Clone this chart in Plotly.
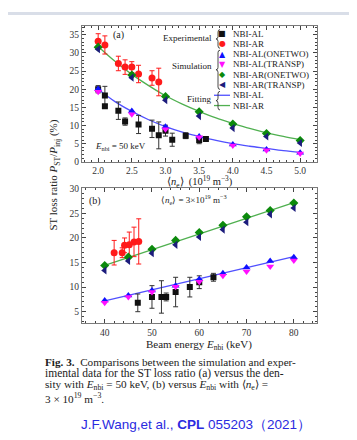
import plotly.graph_objects as go

W, H = 357, 440

# ---------------- Panel (a): versus density ----------------
ne_sim = [2.0, 2.5, 3.0, 3.5, 4.0, 4.5, 5.0]
al_onetwo_a = [20.1, 14.0, 9.7, 7.0, 4.8, 3.4, 2.5]
al_transp_a = [19.3, 13.1, 9.0, 6.8, 4.5, 3.2, 2.3]
ar_onetwo_a = [31.6, 23.9, 18.0, 13.8, 10.4, 7.8, 5.9]
ar_transp_a = [31.0, 23.2, 17.0, 12.6, 9.3, 7.0, 5.2]

ne_exp_al = [2.0, 2.1, 2.1, 2.3, 2.4, 2.6, 2.8, 2.9, 3.0, 3.1, 3.3, 3.5, 3.6]
exp_al_a = [20.0, 18.3, 15.3, 14.1, 11.1, 10.3, 9.1, 7.3, 8.6, 6.1, 7.2, 6.0, 6.3]
exp_al_a_err = [1.0, 2.5, 0.3, 2.4, 1.0, 2.5, 2.4, 3.7, 1.5, 1.8, 0.8, 1.0, 0.3]

ne_exp_ar = [2.0, 2.1, 2.3, 2.4, 2.5, 2.6, 2.8, 2.9]
exp_ar_a = [33.2, 32.2, 27.1, 26.1, 26.1, 24.2, 23.1, 22.0]
exp_ar_a_err = [2.1, 2.5, 2.0, 2.0, 1.5, 2.4, 2.0, 3.8]

ne_fit = [2.0, 2.25, 2.5, 2.75, 3.0, 3.25, 3.5, 3.75, 4.0, 4.25, 4.5, 4.75, 5.0]
fit_al_a = [20.0, 16.6, 13.9, 11.6, 9.7, 8.2, 7.0, 5.9, 5.0, 4.3, 3.7, 3.1, 2.6]
fit_ar_a = [31.8, 27.7, 24.1, 21.0, 18.2, 15.9, 13.9, 12.1, 10.6, 9.2, 8.0, 7.0, 6.1]

# ---------------- Panel (b): versus beam energy ----------------
E_sim = [40, 45, 50, 55, 60, 65, 70, 75, 80]
al_onetwo_b = [7.3, 8.3, 9.3, 10.3, 11.6, 12.8, 14.0, 15.3, 16.1]
al_transp_b = [6.8, 8.0, 9.0, 10.1, 11.1, 12.3, 13.2, 14.2, 15.4]
ar_onetwo_b = [14.4, 16.1, 17.7, 19.5, 21.1, 22.6, 24.3, 25.6, 27.1]
ar_transp_b = [13.4, 15.3, 16.9, 18.6, 20.2, 21.7, 23.2, 24.8, 26.1]

E_exp_al = [47, 50, 52, 53, 55, 58, 60, 63]
exp_al_b = [6.8, 8.0, 8.0, 8.0, 9.0, 10.0, 11.0, 12.0]
exp_al_b_err = [1.8, 2.3, 3.3, 0.8, 3.0, 2.0, 1.3, 0.8]

E_exp_ar = [42, 43.7, 44.2, 45.2, 46.2, 47.2]
exp_ar_b = [17.0, 17.0, 18.5, 18.6, 19.2, 19.3]
exp_ar_b_err = [2.5, 1.0, 1.5, 2.6, 3.0, 4.6]

E_fit = [40, 80]
fit_al_b = [7.2, 16.2]
fit_ar_b = [14.4, 27.2]

legend_labels = ["NBI-AL", "NBI-AR", "NBI-AL(ONETWO)", "NBI-AL(TRANSP)",
                 "NBI-AR(ONETWO)", "NBI-AR(TRANSP)", "NBI-AL", "NBI-AR"]

# colours
C_BLK = "#111111"
C_RED = "#ff1a1a"
C_BLU = "#1010ff"
C_MAG = "#ff10ff"
C_GRN = "#0c8a0c"
C_NAV = "#1c1c7c"
C_FBL = "#5050ff"
C_FGR = "#50b050"

SERIF = "Liberation Serif"


def px(x, y):
    return x / W, 1 - y / H


fig = go.Figure()


def add_panel(xa, ya, xs, ys_list, xexp_al, yexp_al, eal, xexp_ar, yexp_ar, ear, xfit, fal, far, spline):
    shape = "spline" if spline else "linear"
    fig.add_trace(go.Scatter(x=xfit, y=fal, mode="lines", line=dict(color=C_FBL, width=1.3, shape=shape),
                             xaxis=xa, yaxis=ya, showlegend=False))
    fig.add_trace(go.Scatter(x=xfit, y=far, mode="lines", line=dict(color=C_FGR, width=1.3, shape=shape),
                             xaxis=xa, yaxis=ya, showlegend=False))
    fig.add_trace(go.Scatter(x=xexp_ar, y=yexp_ar, mode="markers",
                             marker=dict(symbol="circle", size=7, color=C_RED),
                             error_y=dict(type="data", array=ear, color=C_RED, thickness=1, width=2.5),
                             xaxis=xa, yaxis=ya, showlegend=False))
    fig.add_trace(go.Scatter(x=xexp_al, y=yexp_al, mode="markers",
                             marker=dict(symbol="square", size=6, color=C_BLK),
                             error_y=dict(type="data", array=eal, color="#333333", thickness=1, width=2.5),
                             xaxis=xa, yaxis=ya, showlegend=False))
    sims = [("triangle-up", C_BLU), ("triangle-down", C_MAG), ("diamond", C_GRN), ("triangle-left", C_NAV)]
    for (sym, col), ys in zip(sims, ys_list):
        fig.add_trace(go.Scatter(x=xs, y=ys, mode="markers",
                                 marker=dict(symbol=sym, size=7, color=col),
                                 xaxis=xa, yaxis=ya, showlegend=False))


add_panel("x", "y", ne_sim, [al_onetwo_a, al_transp_a, ar_onetwo_a, ar_transp_a],
          ne_exp_al, exp_al_a, exp_al_a_err, ne_exp_ar, exp_ar_a, exp_ar_a_err,
          ne_fit, fit_al_a, fit_ar_a, True)
add_panel("x2", "y2", E_sim, [al_onetwo_b, al_transp_b, ar_onetwo_b, ar_transp_b],
          E_exp_al, exp_al_b, exp_al_b_err, E_exp_ar, exp_ar_b, exp_ar_b_err,
          E_fit, fit_al_b, fit_ar_b, False)

ax_common = dict(showline=True, linecolor="#7a7a7a", linewidth=1.2, mirror="ticks",
                 ticks="inside", ticklen=4, tickcolor="#444", tickwidth=1,
                 showgrid=False, zeroline=False,
                 tickfont=dict(family=SERIF, size=9.5, color="#333"))

xd = [74 / W, 309 / W]
fig.update_layout(
    width=W, height=H, margin=dict(l=0, r=0, t=0, b=0),
    paper_bgcolor="white", plot_bgcolor="white", showlegend=False,
    xaxis=dict(domain=xd, range=[1.76, 5.25], dtick=0.5, tick0=2.0, tickformat=".1f", anchor="y",
               minor=dict(ticks="inside", ticklen=2, dtick=0.1, tickcolor="#444"), **ax_common),
    yaxis=dict(domain=[1 - 153 / H, 1 - 14 / H], range=[0, 37.5], dtick=5, anchor="x",
               minor=dict(ticks="inside", ticklen=2, dtick=1, tickcolor="#444"), **ax_common),
    xaxis2=dict(domain=xd, range=[35.2, 84.9], dtick=10, anchor="y2",
                minor=dict(ticks="inside", ticklen=2, dtick=2, tickcolor="#444"), **ax_common),
    yaxis2=dict(domain=[1 - 318 / H, 1 - 180 / H], range=[2.6, 30.1], dtick=5, anchor="x2",
                minor=dict(ticks="inside", ticklen=2, dtick=1, tickcolor="#444"), **ax_common),
)

ann = []


def text(x, y, t, size=10, color="#222", xanchor="center", family=SERIF, angle=0):
    ax, ay = px(x, y)
    ann.append(dict(x=ax, y=ay, xref="paper", yref="paper", text=t, showarrow=False,
                    xanchor=xanchor, yanchor="middle", textangle=angle,
                    font=dict(family=family, size=size, color=color)))


# panel texts
text(110, 23, "(a)", 10)
text(85, 137, "<i>E</i><sub>nbi</sub> = 50 keV", 9, xanchor="left")
text(87, 193, "(b)", 10)
text(186, 191, "⟨<i>n</i><sub>e</sub>⟩ = 3×10<sup>19</sup> m<sup>−3</sup>", 9)

# axis titles
text(192, 174, "⟨<i>n</i><sub>e</sub>⟩  (10<sup>19</sup> m<sup>−3</sup>)", 10.5)
text(191, 340, "Beam energy <i>E</i><sub>nbi</sub> (keV)", 11)
text(46, 166, "ST loss ratio <i>P</i><sub>ST</sub>/<i>P</i><sub>inj</sub> (%)", 11, angle=-90)

# manual legend
leg_y = [22, 32.5, 43, 53.5, 64, 74.5, 85, 95.5]
glyphs = [("■", C_BLK, 8), ("●", C_RED, 8), ("▲", C_BLU, 8), ("▼", C_MAG, 8),
          ("◆", C_GRN, 8), ("◀", C_NAV, 8)]
for (g, c, s), yy in zip(glyphs, leg_y[:6]):
    text(214, yy, g, s, color=c, family="DejaVu Sans")
for lab, yy in zip(legend_labels, leg_y):
    text(223, yy, lab, 9, xanchor="left")

shapes = []
for yy, col in zip(leg_y[6:], [C_FBL, C_FGR]):
    x0, y0 = px(206, yy)
    x1, _ = px(222, yy)
    shapes.append(dict(type="line", xref="paper", yref="paper", x0=x0, x1=x1, y0=y0, y1=y0,
                       line=dict(color=col, width=1.3)))


def brace(xr, ytop, ybot, w=4.0, r=2.5):
    ym = (ytop + ybot) / 2
    xm = xr - w / 2
    pts = [("M", [(xr, ytop)]), ("Q", [(xm, ytop), (xm, ytop + r)]), ("L", [(xm, ym - r)]),
           ("Q", [(xm, ym), (xr - w, ym)]), ("Q", [(xm, ym), (xm, ym + r)]), ("L", [(xm, ybot - r)]),
           ("Q", [(xm, ybot), (xr, ybot)])]
    s = ""
    for cmd, pl in pts:
        s += cmd + " " + " ".join("%.5f,%.5f" % px(a, b) for a, b in pl) + " "
    shapes.append(dict(type="path", xref="paper", yref="paper", path=s.strip(),
                       line=dict(color="#333", width=0.9)))


brace(212, 18, 37)
brace(212, 39, 79)
brace(212, 81, 100)
text(206, 27, "Experimental", 9, xanchor="right")
text(206, 55, "Simulation", 9, xanchor="right")
text(206, 89, "Fitting", 9, xanchor="right")

# top strip
shapes.append(dict(type="rect", xref="paper", yref="paper", x0=0, x1=1, y0=1 - 3 / H, y1=1,
                   line=dict(width=0), fillcolor="#d9dee8", layer="below"))

# caption
cap = [
    (357, "<b>Fig. 3.</b>  Comparisons between the simulation and exper-", 11.2),
    (369, "imental data for the ST loss ratio (a) versus the den-", 11.5),
    (380.5, "sity with <i>E</i><sub>nbi</sub> = 50 keV, (b) versus <i>E</i><sub>nbi</sub> with ⟨<i>n</i><sub>e</sub>⟩ =", 11.2),
    (394, "3 × 10<sup>19</sup> m<sup>−3</sup>.", 11.2),
]
for yy, t, fs in cap:
    text(35, yy, t, fs, color="#222", xanchor="left")

text(188, 421, "J.F.Wang,et al., <b>CPL</b> 055203（2021）", 13.5, color="#2a2ae0",
     family="Liberation Sans")

fig.update_layout(annotations=ann, shapes=shapes)
fig.write_html("out.html")
